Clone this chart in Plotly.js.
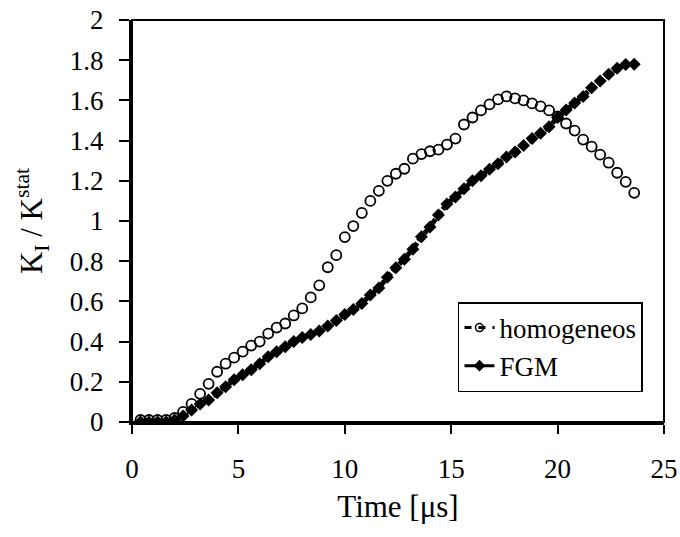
<!DOCTYPE html>
<html>
<head>
<meta charset="utf-8">
<script src="https://cdn.plot.ly/plotly-3.0.1.min.js"></script>
<style>
  html, body { margin: 0; padding: 0; background: #fff; }
  #chart { width: 680px; height: 537px; }
</style>
</head>
<body>
<div id="chart"></div>
<script>
// Time samples [µs]
const time = [0.4, 0.8, 1.2, 1.6, 2.0, 2.4, 2.8, 3.2, 3.6, 4.0,
              4.4, 4.8, 5.2, 5.6, 6.0, 6.4, 6.8, 7.2, 7.6, 8.0,
              8.4, 8.8, 9.2, 9.6, 10.0, 10.4, 10.8, 11.2, 11.6, 12.0,
              12.4, 12.8, 13.2, 13.6, 14.0, 14.4, 14.8, 15.2, 15.6, 16.0,
              16.4, 16.8, 17.2, 17.6, 18.0, 18.4, 18.8, 19.2, 19.6, 20.0,
              20.4, 20.8, 21.2, 21.6, 22.0, 22.4, 22.8, 23.2, 23.6];

// K_I / K^stat, homogeneous material (open circles)
const homogeneos = [0.01, 0.01, 0.01, 0.01, 0.02, 0.05, 0.09, 0.14, 0.19, 0.25,
                    0.29, 0.32, 0.35, 0.38, 0.40, 0.44, 0.47, 0.49, 0.53, 0.565,
                    0.62, 0.68, 0.77, 0.83, 0.92, 0.975, 1.04, 1.10, 1.15, 1.20,
                    1.235, 1.26, 1.31, 1.333, 1.347, 1.355, 1.38, 1.41, 1.48, 1.515,
                    1.55, 1.58, 1.605, 1.62, 1.61, 1.60, 1.585, 1.57, 1.55, 1.52,
                    1.485, 1.45, 1.405, 1.37, 1.33, 1.29, 1.24, 1.195, 1.14];

// K_I / K^stat, FGM (diamonds)
const fgm = [0.0, 0.0, 0.0, 0.0, 0.01, 0.03, 0.06, 0.09, 0.11, 0.145,
             0.175, 0.21, 0.235, 0.26, 0.29, 0.325, 0.35, 0.375, 0.40, 0.42,
             0.435, 0.453, 0.478, 0.505, 0.535, 0.56, 0.59, 0.632, 0.667, 0.72,
             0.767, 0.81, 0.86, 0.922, 0.97, 1.03, 1.085, 1.12, 1.16, 1.20,
             1.225, 1.258, 1.285, 1.318, 1.343, 1.376, 1.41, 1.436, 1.469, 1.515,
             1.552, 1.587, 1.62, 1.663, 1.697, 1.73, 1.76, 1.778, 1.78];

const seriesNames = ['homogeneos', 'FGM'];
const xTicks = [0, 5, 10, 15, 20, 25];
const yTicks = [0, 0.2, 0.4, 0.6, 0.8, 1, 1.2, 1.4, 1.6, 1.8, 2];

const FONT = 'Liberation Serif';

const traces = [
  // data: homogeneous (circles only)
  {
    x: time, y: homogeneos, type: 'scatter', mode: 'markers',
    showlegend: false, name: seriesNames[0],
    marker: { symbol: 'circle-open', size: 10, color: '#000', line: { width: 1.8, color: '#000' } },
    hoverinfo: 'x+y'
  },
  // data: FGM (thick dashed line with diamonds)
  {
    x: time, y: fgm, type: 'scatter', mode: 'lines+markers',
    showlegend: false, name: seriesNames[1],
    line: { color: '#000', width: 5, dash: '8px,2px' },
    marker: { symbol: 'diamond', size: 10, color: '#000' },
    hoverinfo: 'x+y'
  },
  // legend entries
  {
    x: [null], y: [null], type: 'scatter', mode: 'lines+markers', name: seriesNames[0],
    line: { color: '#000', width: 3, dash: '7px,7px' },
    marker: { symbol: 'circle-open', size: 8, color: '#000', line: { width: 1.5, color: '#000' } }
  },
  {
    x: [null], y: [null], type: 'scatter', mode: 'lines+markers', name: seriesNames[1],
    line: { color: '#000', width: 3 },
    marker: { symbol: 'diamond', size: 9, color: '#000' }
  }
];

const layout = {
  width: 680, height: 537,
  margin: { l: 132, r: 16, t: 20, b: 115, pad: 0 },
  paper_bgcolor: '#fff', plot_bgcolor: '#fff',
  font: { family: FONT, size: 27, color: '#000' },
  showlegend: true,
  legend: {
    x: 0.9605, xanchor: 'right', y: 0.2985, yanchor: 'top',
    bgcolor: '#fff', bordercolor: '#000', borderwidth: 1.5,
    font: { family: FONT, size: 27, color: '#000' },
    itemwidth: 30, tracegroupgap: 0
  },
  xaxis: {
    range: [0, 25], tickvals: xTicks, ticktext: xTicks.map(String),
    showgrid: false, zeroline: false,
    showline: true, linecolor: '#000', linewidth: 3,
    ticks: 'outside', ticklen: 9, tickwidth: 2, tickcolor: '#000',
    tickfont: { family: FONT, size: 27, color: '#000' },
    ticklabelstandoff: 12,
    title: { text: 'Time [μs]', font: { family: FONT, size: 31, color: '#000' }, standoff: 12 },
    fixedrange: true
  },
  yaxis: {
    range: [0, 2], tickvals: yTicks, ticktext: yTicks.map(String),
    showgrid: false, zeroline: false,
    showline: true, linecolor: '#000', linewidth: 3,
    ticks: 'outside', ticklen: 10, tickwidth: 2, tickcolor: '#000',
    tickfont: { family: FONT, size: 27, color: '#000' },
    ticklabelstandoff: 10,
    title: { text: 'K<sub>I</sub> / K<sup>stat</sup>', font: { family: FONT, size: 31, color: '#000' }, standoff: 18 },
    fixedrange: true
  },
  shapes: [
    { type: 'rect', xref: 'paper', yref: 'paper', x0: 0, x1: 1, y0: 0, y1: 1,
      line: { color: '#000', width: 2 }, fillcolor: 'rgba(0,0,0,0)', layer: 'above' }
  ]
};

Plotly.newPlot('chart', traces, layout, { displayModeBar: false, staticPlot: true });
</script>
</body>
</html>
